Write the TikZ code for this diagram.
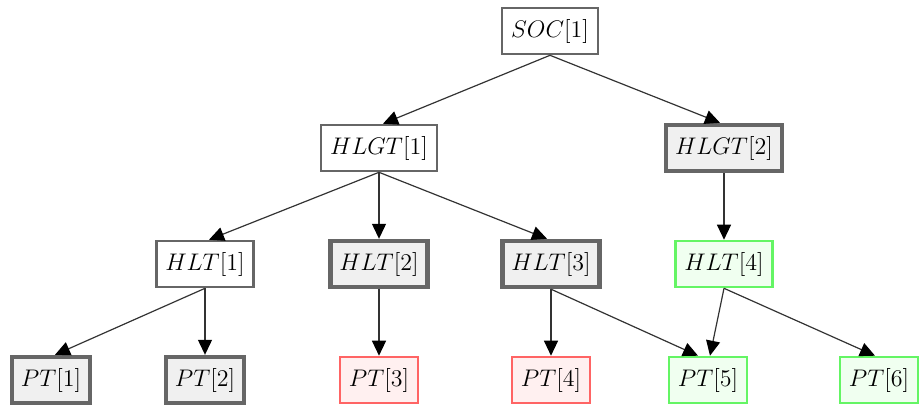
\documentclass[tikz,border=0pt]{standalone}
\usetikzlibrary{arrows.meta}
\definecolor{boxgray}{HTML}{666666}
\definecolor{boxfill}{HTML}{F0F0F0}
\definecolor{redline}{HTML}{FF6464}
\definecolor{redfill}{HTML}{FFF0F0}
\definecolor{greenline}{HTML}{64F564}
\definecolor{greenfill}{HTML}{F0FFF0}
\definecolor{linkgray}{HTML}{333333}
\begin{document}
\begin{tikzpicture}[x=0.5pt,y=-0.5pt,>={Triangle[length=7.5pt,width=7pt,color=black]}]

  \tikzstyle{plain}=[draw=boxgray,line width=1.3pt,fill=white,minimum height=23pt,inner xsep=4.5pt,font=\large]
  \tikzstyle{heavy}=[plain,line width=2.2pt,fill=boxfill]
  \tikzstyle{redbox}=[plain,draw=redline,fill=redfill]
  \tikzstyle{greenbox}=[plain,draw=greenline,fill=greenfill]
  \tikzstyle{leaf}=[minimum width=37.5pt]
  \tikzstyle{link}=[->,draw=linkgray,line width=0.6pt]

  \useasboundingbox (0,0) rectangle (920,408);

  \node[plain] (soc1) at (550,31) {$SOC[1]$};

  \node[plain] (hlgt1) at (379,148) {$HLGT[1]$};
  \node[heavy] (hlgt2) at (724,148) {$HLGT[2]$};

  \node[plain] (hlt1) at (205,264) {$HLT[1]$};
  \node[heavy] (hlt2) at (379,264) {$HLT[2]$};
  \node[heavy] (hlt3) at (551,264) {$HLT[3]$};
  \node[greenbox] (hlt4) at (724,264) {$HLT[4]$};

  \node[heavy,leaf] (pt1) at (51,380) {$PT[1]$};
  \node[heavy,leaf] (pt2) at (205,380) {$PT[2]$};
  \node[redbox,leaf] (pt3) at (379,380) {$PT[3]$};
  \node[redbox,leaf] (pt4) at (551,380) {$PT[4]$};
  \node[greenbox,leaf] (pt5) at (708,380) {$PT[5]$};
  \node[greenbox,leaf] (pt6) at (879,380) {$PT[6]$};

  \draw[link] (soc1.south) -- ([xshift=2pt]hlgt1.north);
  \draw[link] (soc1.south) -- ([xshift=-2pt]hlgt2.north);

  \draw[link] (hlgt1.south) -- ([xshift=2pt]hlt1.north);
  \draw[link] (hlgt1.south) -- (hlt2.north);
  \draw[link] (hlgt1.south) -- ([xshift=-2pt]hlt3.north);
  \draw[link] (hlgt2.south) -- (hlt4.north);

  \draw[link] (hlt1.south) -- ([xshift=2pt]pt1.north);
  \draw[link] (hlt1.south) -- (pt2.north);
  \draw[link] (hlt2.south) -- (pt3.north);
  \draw[link] (hlt3.south) -- (pt4.north);
  \draw[link] (hlt3.south) -- ([xshift=-5pt]pt5.north);
  \draw[link] (hlt4.south) -- ([xshift=1pt]pt5.north);
  \draw[link] (hlt4.south) -- ([xshift=-2pt]pt6.north);

\end{tikzpicture}
\end{document}
